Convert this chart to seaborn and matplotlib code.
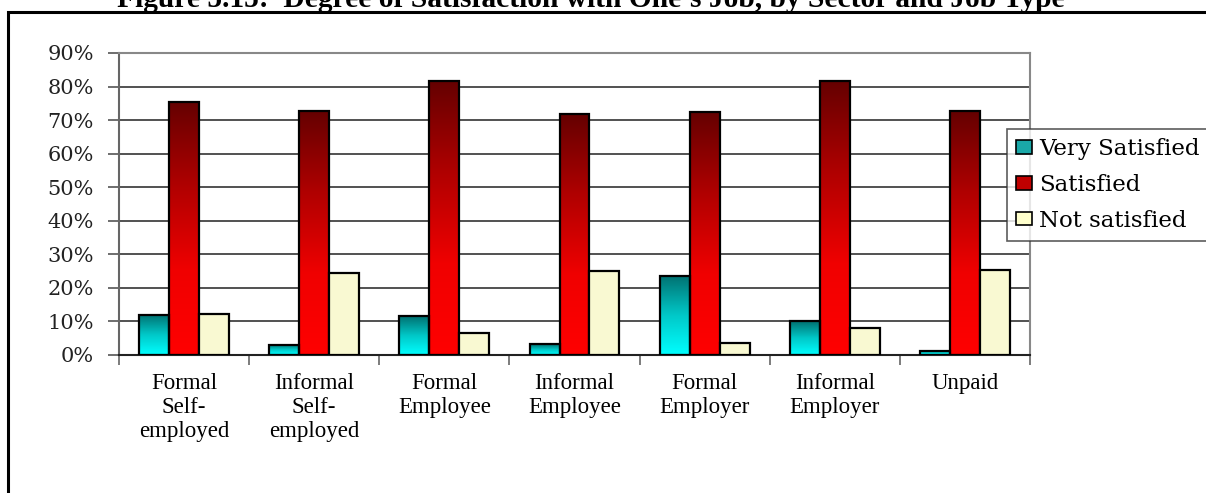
import numpy as np
import pandas as pd
import matplotlib.pyplot as plt
import seaborn as sns
from matplotlib.colors import LinearSegmentedColormap
from matplotlib.patches import Patch, Rectangle

job_types = ["Formal\nSelf-\nemployed", "Informal\nSelf-\nemployed", "Formal\nEmployee",
             "Informal\nEmployee", "Formal\nEmployer", "Informal\nEmployer", "Unpaid"]
levels = ["Very Satisfied", "Satisfied", "Not satisfied"]
very_satisfied = [12.0, 3.0, 11.6, 3.2, 23.6, 10.1, 1.3]
satisfied = [75.5, 72.6, 81.6, 71.7, 72.4, 81.6, 72.6]
not_satisfied = [12.2, 24.3, 6.7, 25.1, 3.5, 7.9, 25.3]
yticks = list(range(0, 100, 10))

df = pd.DataFrame({
    "job": job_types * 3,
    "level": [levels[0]] * 7 + [levels[1]] * 7 + [levels[2]] * 7,
    "share": very_satisfied + satisfied + not_satisfied,
})

colors = {"Very Satisfied": "#1aa8a8", "Satisfied": "#c00000", "Not satisfied": "#ffffcc"}
grads = {
    "Very Satisfied": LinearSegmentedColormap.from_list("vs", ["#00ffff", "#00c8c8", "#007070"]),
    "Satisfied": LinearSegmentedColormap.from_list("s", ["#ff0000", "#f00000", "#b00000", "#650000"]),
}

serif = ["Liberation Serif", "DejaVu Serif"]
wide = ["DejaVu Serif"]

fig = plt.figure(figsize=(12.06, 4.93), dpi=100)
ax = fig.add_axes([119 / 1206, 1 - 355 / 493, (1030 - 119) / 1206, (355 - 53) / 493])

sns.barplot(data=df, x="job", y="share", hue="level", hue_order=levels, palette=colors,
            width=0.69, gap=0, edgecolor="black", linewidth=1.6, legend=False, ax=ax, zorder=3)

# gradient fills clipped to the bars
for container, lvl in zip(ax.containers, levels):
    for bar in container:
        if lvl in grads:
            x0, y0 = bar.get_x(), bar.get_y()
            w, h = bar.get_width(), bar.get_height()
            img = ax.imshow(np.linspace(0, 1, 256).reshape(-1, 1), cmap=grads[lvl],
                            extent=[x0, x0 + w, y0, y0 + h], origin="lower",
                            aspect="auto", zorder=2.5)
            img.set_clip_path(bar)
            bar.set_facecolor("none")

ax.set_xlim(-0.5, 6.5)
ax.set_ylim(0, 90)
ax.set_yticks(yticks)
ax.set_yticklabels([f"{t}%" for t in yticks], family=wide, fontsize=15, color="#222222")
ax.set_xticks(range(7))
ax.set_xticklabels(job_types, family=serif, fontsize=16.5, linespacing=1.2)
ax.set_xticks(np.arange(-0.5, 7, 1), minor=True)
ax.tick_params(axis="x", which="major", length=0, pad=13)
ax.tick_params(axis="x", which="minor", length=7, color="#666666", width=1.2, direction="out")
ax.tick_params(axis="y", length=8, width=1.2, color="#555555", pad=10)
ax.set_xlabel("")
ax.set_ylabel("")

ax.grid(axis="y", color="#222222", linewidth=1.1, zorder=1)
ax.set_axisbelow(True)
for side in ["top", "right"]:
    ax.spines[side].set_color("#888888")
    ax.spines[side].set_linewidth(1.5)
ax.spines["left"].set_color("#666666")
ax.spines["left"].set_linewidth(1.5)
ax.spines["bottom"].set_color("#222222")
ax.spines["bottom"].set_linewidth(1.5)

handles = [Patch(facecolor=colors[l], edgecolor="black", linewidth=1.2) for l in levels]
leg = fig.legend(handles, levels, loc="upper left", bbox_to_anchor=(1007 / 1206, 1 - 129 / 493),
                 prop={"family": wide, "size": 16.5}, frameon=True, fancybox=False,
                 edgecolor="#333333", handlelength=0.7, handleheight=0.55, handletextpad=0.3,
                 labelspacing=0.6, borderpad=0.4, borderaxespad=0)
leg.get_frame().set_linewidth(1.2)

# outer frame (runs off the right and bottom edges)
fig.add_artist(Rectangle((7.5 / 1206, -0.2), 1.5, 1.2 - 11.5 / 493, transform=fig.transFigure,
                         fill=False, edgecolor="black", linewidth=2.2))

title = fig.text(591 / 1206, 1 - 7 / 493,
                 "Figure 5.15:  Degree of Satisfaction with One\u2019s Job, by Sector and Job Type",
                 ha="center", va="baseline", fontweight="bold", family=serif, fontsize=18)
fig.canvas.draw()
tw = title.get_window_extent().width
title.set_fontsize(18 * 947 / tw)

fig.savefig("out.png", dpi=100)
